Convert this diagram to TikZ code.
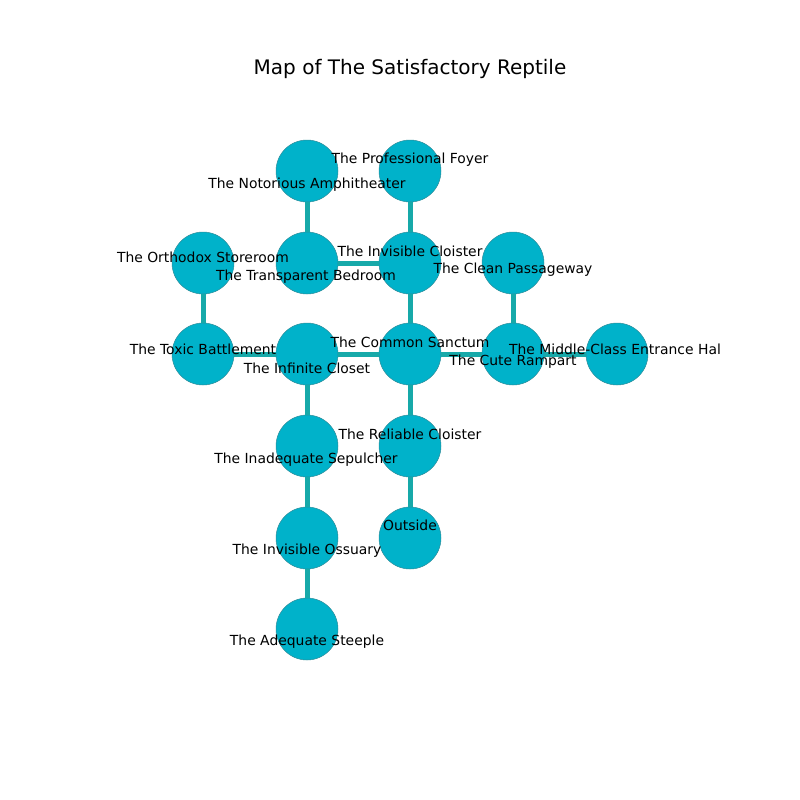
\documentclass[tikz,border=0pt]{standalone}
\usepackage{fontspec}
\setmainfont{DejaVu Sans}
\definecolor{roomfill}{HTML}{00B2CA}
\definecolor{roomedge}{HTML}{2F8C99}
\definecolor{passage}{HTML}{17A9A9}
\tikzset{
  room/.style={circle, fill=roomfill, draw=roomedge, line width=0.5pt, minimum size=62pt, inner sep=0pt},
  lbl/.style={font=\fontsize{13.9}{15}\selectfont, inner sep=0pt, anchor=center},
  passage/.style={draw=passage, line width=5pt}
}
\begin{document}
\begin{tikzpicture}[x=1pt, y=-1pt]
    \useasboundingbox (0,0) rectangle (800,800);
    \node[font=\fontsize{20}{23}\selectfont] (title) at (410,69) {Map of The Satisfactory Reptile};

    \node[room] (NA) at (307,171) {};
    \node[room] (PF) at (410,171) {};

    \node[room] (OS) at (203,263) {};
    \node[room] (TB) at (307,263) {};
    \node[room] (IC) at (410,263) {};
    \node[room] (CP) at (513,263) {};

    \node[room] (TX) at (203,354) {};
    \node[room] (IF) at (307,354) {};
    \node[room] (CS) at (410,354) {};
    \node[room] (CR) at (513,354) {};
    \node[room] (MC) at (617,354) {};

    \node[room] (IS) at (307,446) {};
    \node[room] (RC) at (410,446) {};

    \node[room] (IO) at (307,538) {};
    \node[room] (OUT) at (410,538) {};

    \node[room] (AS) at (307,629) {};

    \draw[passage] (NA) -- (TB);
    \draw[passage] (PF) -- (IC);
    \draw[passage] (TB) -- (IC);
    \draw[passage] (OS) -- (TX);
    \draw[passage] (IC) -- (CS);
    \draw[passage] (CP) -- (CR);
    \draw[passage] (TX) -- (IF);
    \draw[passage] (IF) -- (CS);
    \draw[passage] (CS) -- (CR);
    \draw[passage] (CR) -- (MC);
    \draw[passage] (IF) -- (IS);
    \draw[passage] (CS) -- (RC);
    \draw[passage] (RC) -- (OUT);
    \draw[passage] (IS) -- (IO);
    \draw[passage] (IO) -- (AS);

    \node[lbl] (NAl) at (307,185) {The Notorious Amphitheater};
    \node[lbl] (PFl) at (410,160) {The Professional Foyer};
    \node[lbl] (OSl) at (203,257) {The Orthodox Storeroom};
    \node[lbl] (TBl) at (306,277) {The Transparent Bedroom};
    \node[lbl] (ICl) at (410,251) {The Invisible Cloister};
    \node[lbl] (CPl) at (513,270) {The Clean Passageway};
    \node[lbl] (TXl) at (203,349) {The Toxic Battlement};
    \node[lbl] (IFl) at (307,368) {The Infinite Closet};
    \node[lbl] (CSl) at (410,342) {The Common Sanctum};
    \node[lbl] (CRl) at (513,362) {The Cute Rampart};
    \node[lbl] (MCl) at (615,349) {The Middle-Class Entrance Hal};
    \node[lbl] (ISl) at (306,460) {The Inadequate Sepulcher};
    \node[lbl] (RCl) at (410,434) {The Reliable Cloister};
    \node[lbl] (IOl) at (307,551) {The Invisible Ossuary};
    \node[lbl] (OUTl) at (410,525) {Outside};
    \node[lbl] (ASl) at (307,642) {The Adequate Steeple};
  \end{tikzpicture}
\end{document}
